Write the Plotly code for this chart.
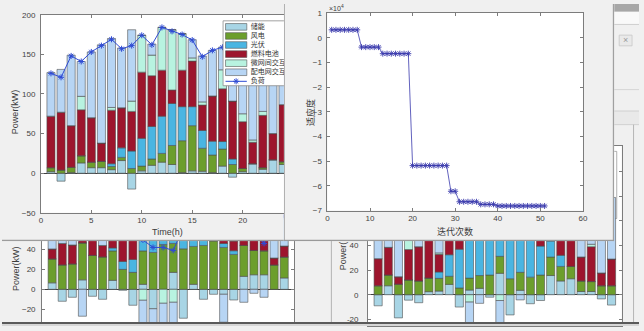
import plotly.graph_objects as go

W, H = 644, 331

# ---------------- data ----------------
hours = list(range(1, 25))
names = ['储能', '风电', '光伏', '燃料电池', '微网间交互', '配电网交互']
load_name = '负荷'
colors = ['#a8d5e5', '#6c9e2c', '#4ab5e2', '#9d152d', '#b8f3e0', '#b7d5f4']

# main window (top-left)
storage_1 = [2, -10, 1, 13, 7, 7, 4.5, 16, -20, 3, 10, 14, 11, 1, 3, 2.5, 1, 9, -5, 2, 12, 5, 17, 11]
wind_1 = [5, 4, 6.5, 9, 7, 8, 4, 4, 6, 6, 8, 11, 24, 40, 57, 29, 22, 21.5, 11, 4, 0, 2, 0, 3.5]
pv_1 = [0, 0, 0, 0, 0, 0, 3.5, 12, 22, 35, 41, 47, 53, 43, 24, 22.5, 17.5, 9.5, 7, 0, 0, 0, 0, 0]
fuel_1 = [65, 73, 52.5, 58, 56, 23, 67.5, 50.5, 50, 83.5, 64, 58, 17, 46, 57.5, 32, 57, 66.5, 73, 59, 27, 66, 33, 72]
micro_1 = [0, 0, 0, 17, 0, 0, 3.5, 0, 13, 46.5, 26, 54, 76, 46, 4, 4, 0, 24, 0, 10, 3, 5, 0, 0]
grid_1 = [55, 54, 89, 44, 83, 124, 87, 75.5, 90, 0, 14, 0, 0, 0, 23, 58, 57.5, 28.5, 77, 95, 116, 72, 90, 41.5]
load_1 = [126, 121, 148, 141, 153, 161, 169, 157, 161, 174, 162, 184, 179, 175, 168, 147, 155, 159, 163, 170, 158, 150, 140, 128]

# bottom-left window
storage_3 = [6.5, -12, -8, 9.5, -7, -10, 9, -1, -16, 5, -19.5, 0, 17, -29, 5, -10, -5, -5, -10.7, 13, 14.6, 14.6, 0, 11.4]
wind_3 = [24, 24.5, 25.5, 37, 34, 32.5, 29.5, 20, 17, 33.5, 37, 45, 29, 40.6, 38, 44, 48.8, 42, 35, 31, 24.4, 24, 24.4, 21]
pv_3 = [0, 0, 0, 0, 0, 0, 3, 8, 13, 40, 30, 25, 30, 30, 30, 25, 0, 4, 3.7, 0, 0, 0, 0, 0]
fuel_3 = [10, 21.5, 19, 60, 60, 11.5, 60, 60, 55, 0, 0, 0, 0, 0, 0, 0, 0, 35, 10, 45, 30, 28, 7, 11]
micro_3 = [0, 0, 0, 0, 0, 0, 0, 0, 0, -11, 0, -14, -13, 0, 0, 0, 0, 0, 0, 0, 0, 0, 0, 0]
grid_3 = [80, 70, 75, -27, 30, 70, 20, 20, 20, -30, -20, -25, -25, 0, 0, 0, 30, -28, 50, -13, -4, -8, 60, 30]
load_3 = [95, 104, 112, 130, 117, 104, 117, 107, 53, 49.5, 42, 42, 39, 62, 73, 59, 74, 70, 86, 76, 58, 46, 91, 73]

# bottom-right window
storage_4 = [-9, 7.3, -18.8, -4.4, -6.5, 2.5, 3, 8.4, -10, 3.8, 5.2, -2, 17.4, -16.4, 3.6, -7.3, -4.7, 15.6, 11.2, 13, 2.6, 2.6, -3.4, -8.4]
wind_4 = [7.3, 8.7, 8.6, 12, 11.2, 11, 10.3, 6.6, 5.5, 9.7, 10.4, 16, 13.8, 13, 14.6, 14.3, 16, 15, 11.8, 10, 8.6, 8.1, 7.3, 7.3]
pv_4 = [0, 0, 0, 0, 0, 0, 5.2, 17.5, 31.5, 70, 70, 70, 60, 60, 60, 60, 23.5, 13, 9, 0, 0, 0, 0, 0]
fuel_4 = [22, 22.5, 6, 24.7, 27.8, 50, 14.3, 50, 50, 0, 0, 0, 0, 0, 0, 0, 40, 40, 40, 40, 19.5, 28.3, 10.4, 21.7]
micro_4 = [0, 0, 0, 30, 0, 0, 1.2, 0, 0, -6, 0, 0, -4.7, 0, 0, 0, 0, 0, 0, 0, 0, 2, 0, 0]
grid_4 = [60, 60, 80, 0, 60, 40, 60, 30, 30, -25, -7, 0, -25, 0, -4.2, 0, 0, 0, 0, 0, 60, 50, 60, 50]

# tick labels of the partly hidden windows
low_ticks = [-20, 0, 20, 40]
low_ticks_r = [-20, 0, 20, 40, 60, 80, 100, 120]
low_text_r = ['-20', '0', '20', '40', '', '', '', '']

# convergence window
iterations = list(range(1, 52))
fitness = [3200, 3200, 3200, 3200, 3200, 3200, 3200,
           -3800, -3800, -3800, -3800, -3800,
           -6450, -6450, -6450, -6450, -6450, -6450, -6450,
           -51800, -51800, -51800, -51800, -51800, -51800, -51800, -51800, -51800,
           -62200, -62200,
           -66450, -66450, -66450, -66450, -66450,
           -67500, -67500, -67500, -67500,
           -68150, -68150, -68150, -68150, -68150, -68150, -68150, -68150, -68150, -68150, -68150, -68150]
fit_scale = 1e4

# ---------------- layout geometry (pixels) ----------------
def dx(a, b):
    return [a / W, b / W]

def dy(top, bottom):
    return [1 - bottom / H, 1 - top / H]

def px(x):
    return x / W

def py(y):
    return 1 - y / H

W1 = (39.3, 285.0, 11.0, 214.7)          # left, right, top, bottom
X1R = [0, (285.0 - 39.3) / 10.2]
Y1R = [-50, 200]

def w1x(p):
    return X1R[0] + (p - W1[0]) / (W1[1] - W1[0]) * (X1R[1] - X1R[0])

def w1y(p):
    return Y1R[1] - (p - W1[2]) / (W1[3] - W1[2]) * (Y1R[1] - Y1R[0])

tickfont = dict(family='Liberation Sans, Arial, sans-serif', size=8, color='#424242')
axcol = '#7c7c7c'
cjk = 'Noto Sans CJK SC'

def data_axis(**kw):
    d = dict(showgrid=False, zeroline=False, ticks='inside', ticklen=3, tickwidth=0.8,
             tickcolor=axcol, showline=True, linecolor=axcol, linewidth=0.8,
             tickfont=tickfont, fixedrange=True)
    d.update(kw)
    return d

def frame_axis(dom, rng):
    return dict(visible=False, domain=dom, range=rng, fixedrange=True)

fig = go.Figure()

bar_line = dict(color='#505050', width=0.6)

def add_bars(series, xa, ya):
    for name, vals, col in zip(names, series, colors):
        fig.add_trace(go.Bar(x=hours, y=vals, name=name, marker=dict(color=col, line=bar_line),
                             xaxis=xa, yaxis=ya, showlegend=False, hoverinfo='skip'))

load_col = '#2f4bd4'
star = dict(symbol='asterisk-open', size=5, color=load_col, line=dict(color=load_col, width=1))

# 1) bottom-left window
add_bars([storage_3, wind_3, pv_3, fuel_3, micro_3, grid_3], 'x', 'y')
fig.add_trace(go.Scatter(x=hours, y=load_3, name=load_name, mode='lines+markers',
                         line=dict(color=load_col, width=1), marker=star,
                         xaxis='x', yaxis='y', showlegend=False, hoverinfo='skip'))
# 2) bottom-right window
add_bars([storage_4, wind_4, pv_4, fuel_4, micro_4, grid_4], 'x2', 'y2')
# 3) main window frame
fig.add_trace(go.Scatter(x=[0], y=[0], mode='markers', marker=dict(opacity=0), xaxis='x3', yaxis='y3',
                         showlegend=False, hoverinfo='skip'))
# 4) main window plot
add_bars([storage_1, wind_1, pv_1, fuel_1, micro_1, grid_1], 'x4', 'y4')
fig.add_trace(go.Scatter(x=hours, y=load_1, name=load_name, mode='lines+markers',
                         line=dict(color=load_col, width=1), marker=star,
                         xaxis='x4', yaxis='y4', showlegend=False, hoverinfo='skip'))
# hand-built legend (clipped by the window on top of it)
lx0, lx1 = w1x(223.5), w1x(300)
ly0, ly1 = w1y(17.3), w1y(84)
fig.add_trace(go.Scatter(x=[lx0, lx1, lx1, lx0, lx0], y=[ly0, ly0, ly1, ly1, ly0], fill='toself',
                         fillcolor='white', mode='lines', line=dict(color='#8a8a8a', width=0.8),
                         xaxis='x4', yaxis='y4', showlegend=False, hoverinfo='skip'))
rows = [23.5 + 9.33 * i for i in range(7)]
for i, col in enumerate(colors):
    sx0, sx1 = w1x(226), w1x(247.5)
    sy0, sy1 = w1y(rows[i] - 3.4), w1y(rows[i] + 3.4)
    fig.add_trace(go.Scatter(x=[sx0, sx1, sx1, sx0, sx0], y=[sy0, sy0, sy1, sy1, sy0], fill='toself',
                             fillcolor=col, mode='lines', line=dict(color='#555555', width=0.6),
                             xaxis='x4', yaxis='y4', showlegend=False, hoverinfo='skip'))
fig.add_trace(go.Scatter(x=[w1x(226), w1x(247.5)], y=[w1y(rows[6])] * 2, mode='lines',
                         line=dict(color=load_col, width=1), xaxis='x4', yaxis='y4',
                         showlegend=False, hoverinfo='skip'))
fig.add_trace(go.Scatter(x=[w1x(236.7)], y=[w1y(rows[6])], mode='markers', marker=star,
                         xaxis='x4', yaxis='y4', showlegend=False, hoverinfo='skip'))
fig.add_trace(go.Scatter(x=[w1x(251.5)] * 7, y=[w1y(r) for r in rows], mode='text',
                         text=names + [load_name], textposition='middle right',
                         textfont=dict(family=cjk, size=7, color='#333333'),
                         xaxis='x4', yaxis='y4', showlegend=False, hoverinfo='skip'))
# 5) convergence window frame
fig.add_trace(go.Scatter(x=[300], y=[0], mode='markers', marker=dict(opacity=0), xaxis='x5', yaxis='y5',
                         showlegend=False, hoverinfo='skip'))
# 6) convergence plot
conv_col = '#3a3aad'
fig.add_trace(go.Scatter(x=iterations, y=[f / fit_scale for f in fitness], mode='lines+markers',
                         line=dict(color=conv_col, width=0.8),
                         marker=dict(symbol='asterisk-open', size=5, color=conv_col,
                                     line=dict(color=conv_col, width=0.9)),
                         xaxis='x6', yaxis='y6', showlegend=False, hoverinfo='skip'))

# ---------------- shapes ----------------
shapes = []

def prect(x0, y0, x1, y1, fill, line=None, lw=0, layer='below'):
    shapes.append(dict(type='rect', xref='paper', yref='paper', x0=px(x0), x1=px(x1), y0=py(y1), y1=py(y0),
                       fillcolor=fill, line=dict(color=line or fill, width=lw), layer=layer))

def pline(x0, y0, x1, y1, col, lw=1, layer='below'):
    shapes.append(dict(type='line', xref='paper', yref='paper', x0=px(x0), x1=px(x1), y0=py(y0), y1=py(y1),
                       line=dict(color=col, width=lw), layer=layer))

# background pieces (under every window)
prect(40.5, 150, 295.5, 331, 'white')
prect(370, 146, 626.5, 331, 'white')
pline(333, 243, 333, 331, '#b3b3b3', 1)
prect(619, 0, 644, 8, '#a7a7a7')
prect(619, 8, 644, 21, '#f9f9f9')
pline(619, 21, 644, 21, '#cfcfcf', 1)
prect(624, 32, 637, 43, '#e9e9e9', '#c6c6c6', 0.8)
pline(619, 88, 644, 88, '#d5d5d5', 1)
prect(619, 110, 644, 124, '#e9e9e9')
pline(619, 110, 644, 110, '#d0d0d0', 1)
pline(619, 124, 644, 124, '#d0d0d0', 1)
pline(638.5, 124, 638.5, 331, '#b5b5b5', 1)
pline(621.5, 151.5, 621.5, 220.5, '#9a9a9a', 0.8)
pline(619, 151.5, 621.5, 151.5, '#9a9a9a', 0.8)
pline(619, 220.5, 621.5, 220.5, '#9a9a9a', 0.8)

def frect(xa, ya, x0, y0, x1, y1, fill, line=None, lw=0):
    shapes.append(dict(type='rect', xref=xa, yref=ya, x0=x0, x1=x1, y0=y0, y1=y1, fillcolor=fill,
                       line=dict(color=line or fill, width=lw), layer='below'))

def fline(xa, ya, x0, y0, x1, y1, col, lw=1):
    shapes.append(dict(type='line', xref=xa, yref=ya, x0=x0, x1=x1, y0=y0, y1=y1,
                       line=dict(color=col, width=lw), layer='below'))

# main window frame (pixel coordinates)
frect('x3', 'y3', 0, 0, 285, 244, '#f0f0f0')
frect('x3', 'y3', W1[0], W1[2], 285, W1[3], 'white')
fline('x3', 'y3', 0, 243, 285, 243, '#9c9c9c', 1.5)
# convergence window frame
frect('x5', 'y5', 285, 0, 619, 244, '#f0f0f0')
frect('x5', 'y5', 329, 9.3, 587.3, 212.3, 'white')
fline('x5', 'y5', 285.5, 0, 285.5, 244, '#a9a9a9', 1)
fline('x5', 'y5', 618.3, 0, 618.3, 244, '#a0a0a0', 1.5)
fline('x5', 'y5', 285, 243, 619, 243, '#9a9a9a', 1.5)

# bottom screen edge
prect(0, 327, 644, 329, '#5a5a5a', layer='above')
prect(0, 329, 644, 331, '#d6d6d6', layer='above')

# ---------------- annotations ----------------
ann = []

def note(x, y, text, size=9, angle=0, family='Liberation Sans, Arial, sans-serif', color='#3c3c3c'):
    ann.append(dict(xref='paper', yref='paper', x=px(x), y=py(y), text=text, showarrow=False,
                    textangle=angle, xanchor='center', yanchor='middle',
                    font=dict(family=family, size=size, color=color)))

note(13.3, 111, 'Power(kW)', 9, -90)
note(167.5, 234, 'Time(h)', 9)
note(14, 271.5, 'Power(kW)', 9, -90)
note(345, 259, 'Power(', 9, -90)
note(311.7, 111.6, '适应度', 9, -90, cjk)
note(458, 233.5, '迭代次数', 9, 0, cjk)
note(338, 4.5, '×10<sup>4</sup>', 7)
note(630.5, 37.5, '×', 9, 0, color='#9a9a9a')

fig.update_layout(
    width=W, height=H, margin=dict(l=0, r=0, t=0, b=0),
    paper_bgcolor='#f0f0f0', plot_bgcolor='rgba(0,0,0,0)',
    barmode='relative', bargap=0.2, showlegend=False,
    shapes=shapes, annotations=ann,
    # bottom-left window
    xaxis=data_axis(domain=dx(40.5, 295.5), range=[0, 25], showticklabels=False, showline=False,
                    anchor='y'),
    yaxis=data_axis(domain=dy(150, 331), range=[-36.8, 139.8], tickvals=low_ticks, mirror='ticks',
                    zeroline=True, zerolinecolor='#404040', zerolinewidth=0.8, anchor='x',
                    ticklabelstandoff=4),
    # bottom-right window
    xaxis2=data_axis(domain=dx(370, 626.5), range=[0, 25], showticklabels=False, mirror='ticks',
                     dtick=5, anchor='y2'),
    yaxis2=data_axis(domain=dy(146, 331), range=[-25.4, 120.8], tickvals=low_ticks_r,
                     ticktext=low_text_r, mirror='ticks',
                     zeroline=True, zerolinecolor='#404040', zerolinewidth=0.8, anchor='x2',
                     ticklabelstandoff=7),
    # main frame
    xaxis3=frame_axis(dx(0, 285), [0, 285]),
    yaxis3=frame_axis(dy(0, 244), [244, 0]),
    # main plot
    xaxis4=data_axis(domain=dx(W1[0], W1[1]), range=X1R, tick0=0, dtick=5, mirror='ticks', anchor='y4'),
    yaxis4=data_axis(domain=dy(W1[2], W1[3]), range=Y1R, dtick=50, anchor='x4',
                     zeroline=True, zerolinecolor='#404040', zerolinewidth=0.8, ticklabelstandoff=3),
    # convergence frame
    xaxis5=frame_axis(dx(285, 619), [285, 619]),
    yaxis5=frame_axis(dy(0, 244), [244, 0]),
    # convergence plot
    xaxis6=data_axis(domain=dx(329, 587.3), range=[0, 60], dtick=10, mirror='ticks', anchor='y6'),
    yaxis6=data_axis(domain=dy(9.3, 212.3), range=[-7, 1], dtick=1, mirror='ticks', anchor='x6',
                     ticklabelstandoff=3),
)

fig.write_html('out.html')
